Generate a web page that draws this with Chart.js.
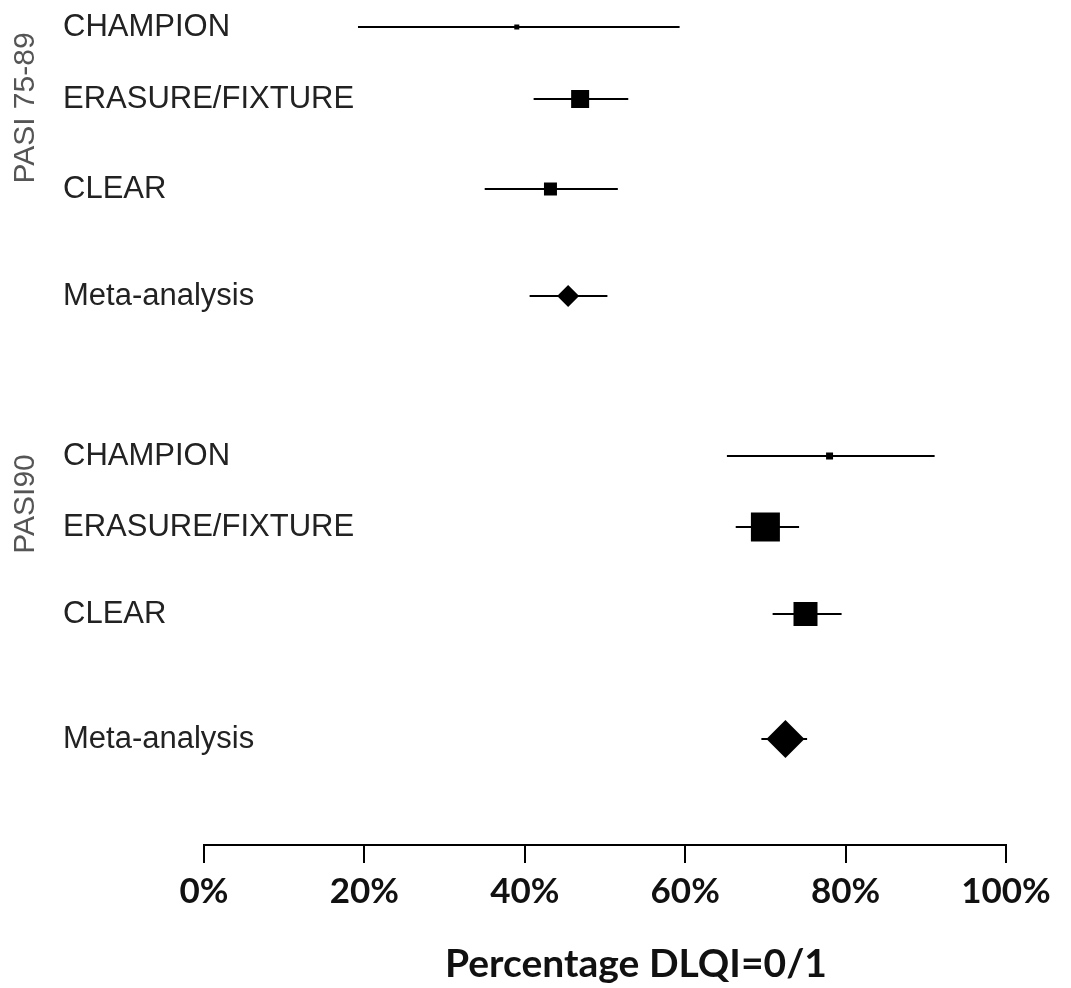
<!DOCTYPE html>
<html>
<head>
<meta charset="utf-8">
<script src="https://cdn.jsdelivr.net/npm/chart.js@4/dist/chart.umd.min.js"></script>
<style>
  html, body { margin: 0; padding: 0; background: #fff; }
  #wrap { width: 1071px; height: 988px; position: relative; }
</style>
</head>
<body>
<div id="wrap"><canvas id="forest"></canvas></div>
<script>
// 数据
const studies = ['CHAMPION', 'ERASURE/FIXTURE', 'CLEAR', 'Meta-analysis',
                 'CHAMPION', 'ERASURE/FIXTURE', 'CLEAR', 'Meta-analysis'];
const groups = ['PASI 75-89', 'PASI90'];
const pointEst = [39.0, 46.9, 43.2, 45.4, 78.0, 70.0, 75.0, 72.5];
const ciLow = [19.2, 41.1, 35.0, 40.6, 65.2, 66.3, 70.9, 69.5];
const ciHigh = [59.3, 52.9, 51.6, 50.3, 91.1, 74.2, 79.5, 75.2];
const xTicks = [0, 20, 40, 60, 80, 100];
const xTitle = 'Percentage DLQI=0/1';

// 布局 (行位置、标记大小)
const rowY = [27, 99, 189, 296, 456, 527, 614, 739];
const groupY = [108, 504];
const markerSide = [5, 18, 13, 22, 7, 29, 24, 38];
const isMeta = studies.map(s => s === 'Meta-analysis');

// 置信区间线段，用 null 点断开
const ciData = [];
studies.forEach((s, i) => {
  ciData.push({ x: ciLow[i], y: rowY[i] });
  ciData.push({ x: ciHigh[i], y: rowY[i] });
  ciData.push({ x: null, y: null });
});

const labelPlugin = {
  id: 'forestLabels',
  afterDraw(chart) {
    const ctx = chart.ctx;
    const yScale = chart.scales.y;
    ctx.save();
    ctx.fillStyle = '#222';
    ctx.font = '31px "Liberation Sans", Arial, sans-serif';
    ctx.textAlign = 'left';
    ctx.textBaseline = 'middle';
    studies.forEach((s, i) => {
      ctx.fillText(s, 63, yScale.getPixelForValue(rowY[i]));
    });
    // 分组标签 (竖排)
    ctx.fillStyle = '#555';
    ctx.font = '30px "Liberation Sans", Arial, sans-serif';
    ctx.textAlign = 'center';
    groups.forEach((g, i) => {
      ctx.save();
      ctx.translate(26, yScale.getPixelForValue(groupY[i]));
      ctx.rotate(-Math.PI / 2);
      ctx.fillText(g, 0, 0);
      ctx.restore();
    });
    // x 轴标题
    ctx.fillStyle = '#111';
    ctx.font = 'bold 39px Lato, sans-serif';
    ctx.fillText(xTitle, 636, 964);
    ctx.restore();
  }
};

new Chart(document.getElementById('forest'), {
  type: 'scatter',
  data: {
    datasets: [
      {
        label: 'CI',
        data: ciData,
        showLine: true,
        spanGaps: false,
        borderColor: '#000',
        borderWidth: 2,
        pointRadius: 0,
        clip: false
      },
      {
        label: 'Estimate',
        data: studies.map((s, i) => ({ x: pointEst[i], y: rowY[i] })),
        pointStyle: isMeta.map(m => m ? 'rectRot' : 'rect'),
        pointRadius: markerSide.map((d, i) => isMeta[i] ? d / 2 : d / Math.SQRT2),
        backgroundColor: '#000',
        pointBorderWidth: 0,
        showLine: false,
        clip: false
      }
    ]
  },
  options: {
    responsive: true,
    maintainAspectRatio: false,
    animation: false,
    devicePixelRatio: 1,
    layout: { autoPadding: false, padding: { left: 204, right: 65, top: 0, bottom: 0 } },
    plugins: {
      legend: { display: false },
      tooltip: { enabled: false }
    },
    scales: {
      x: {
        type: 'linear',
        position: 'bottom',
        min: 0,
        max: 100,
        afterBuildTicks: scale => { scale.ticks = xTicks.map(v => ({ value: v })); },
        afterFit: scale => { scale.height = 143; },
        grid: {
          drawOnChartArea: false,
          drawTicks: true,
          tickLength: 18,
          color: '#000',
          lineWidth: 2
        },
        border: { display: true, color: '#000', width: 2 },
        ticks: {
          callback: v => v + '%',
          color: '#111',
          padding: 8,
          maxRotation: 0,
          font: { family: 'Lato', size: 35, weight: 'bold' }
        }
      },
      y: {
        type: 'linear',
        display: false,
        reverse: true,
        min: 0,
        max: 845
      }
    }
  },
  plugins: [labelPlugin]
});
</script>
</body>
</html>
